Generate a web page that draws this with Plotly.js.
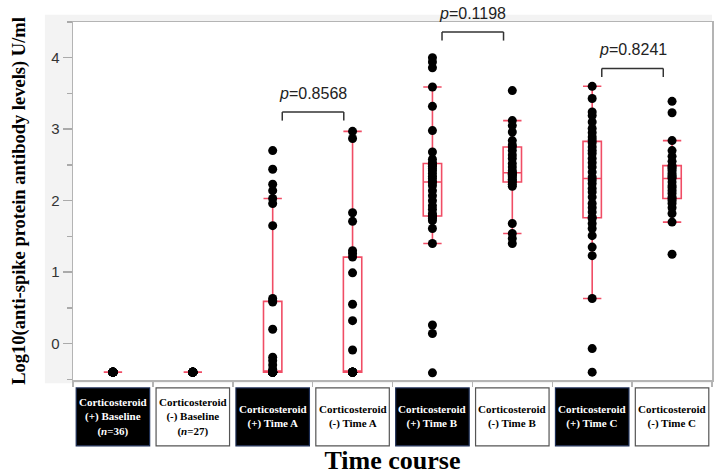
<!DOCTYPE html>
<html>
<head>
<meta charset="utf-8">
<script src="https://cdn.plot.ly/plotly-3.0.1.min.js"></script>
<style>html,body{margin:0;padding:0;background:#fff;}#chart{width:720px;height:475px;}</style>
</head>
<body>
<div id="chart"></div>
<script>
// ---- categories and tick labels ----
const categories = ['(+) Baseline', '(-) Baseline', '(+) Time A', '(-) Time A',
                    '(+) Time B', '(-) Time B', '(+) Time C', '(-) Time C'];
const tickLabels = [
  'Corticosteroid<br>(+) Baseline<br>(<i>n</i>=36)',
  'Corticosteroid<br>(-) Baseline<br>(<i>n</i>=27)',
  'Corticosteroid<br>(+) Time A',
  'Corticosteroid<br>(-) Time A',
  'Corticosteroid<br>(+) Time B',
  'Corticosteroid<br>(-) Time B',
  'Corticosteroid<br>(+) Time C',
  'Corticosteroid<br>(-) Time C'
];

// ---- values: log10 anti-spike protein antibody levels (U/ml) ----
const baselinePos = Array(36).fill(-0.4);
const baselineNeg = Array(27).fill(-0.4);
const timeAPos = [-0.4,-0.4,-0.4,-0.4,-0.4,-0.4,-0.4,-0.4,-0.4,-0.4,-0.4,-0.4,-0.4,-0.4,-0.4,-0.4,-0.4,-0.4,-0.4,-0.4,-0.4,
                  -0.36,-0.30,-0.24,-0.19,0.20,0.58,0.60,0.63,1.65,1.96,2.03,2.14,2.23,2.44,2.70];
const timeANeg = [-0.4,-0.4,-0.4,-0.4,-0.4,-0.4,-0.4,-0.4,-0.4,-0.4,-0.4,-0.4,-0.4,-0.4,-0.4,-0.4,
                  -0.09,0.32,0.55,0.99,1.21,1.26,1.30,1.71,1.83,2.87,2.97];
const timeBPos = [-0.41,0.14,0.26,1.40,1.61,
                  1.72,1.75,1.77,1.78,1.79,1.82,1.88,1.93,2.00,2.07,2.14,2.21,2.25,2.27,2.31,2.34,2.38,2.42,2.45,2.48,2.50,2.51,2.53,2.58,
                  2.68,2.98,3.32,3.59,3.86,3.94,4.00];
const timeBNeg = [1.40,1.47,1.54,1.68,
                  2.20,2.23,2.26,2.28,2.30,2.33,2.35,2.37,2.38,2.39,2.42,2.47,2.52,2.59,2.64,2.70,2.75,2.78,
                  2.84,2.96,3.05,3.12,3.54];
const timeCPos = [-0.40,-0.07,0.63,1.23,1.35,1.51,1.61,1.68,1.75,1.77,1.84,1.90,1.96,2.05,2.12,2.17,2.24,2.29,
                  2.33,2.40,2.47,2.53,2.59,2.66,2.70,2.75,2.81,2.85,2.89,2.95,3.01,3.10,3.19,3.24,3.43,3.60];
const timeCNeg = [1.25,1.70,1.82,1.90,1.96,2.00,2.03,2.05,2.10,2.14,2.18,2.21,2.26,2.31,2.33,2.35,2.38,2.42,
                  2.45,2.47,2.49,2.55,2.62,2.70,2.84,3.23,3.39];

const groups = [baselinePos, baselineNeg, timeAPos, timeANeg, timeBPos, timeBNeg, timeCPos, timeCNeg];

// ---- p values for the comparisons (group index pairs) ----
const pValues = ['0.8568', '0.1198', '0.8241'];
const pPairs = [[2, 3], [4, 5], [6, 7]];

// ---- build trace ----
const xs = [], ys = [];
groups.forEach((g, i) => g.forEach(v => { xs.push(categories[i]); ys.push(v); }));

const RED = '#f04d65';
const trace = {
  type: 'box', x: xs, y: ys,
  boxpoints: 'all', jitter: 0, pointpos: 0,
  quartilemethod: 'exclusive',
  width: 0.23, whiskerwidth: 1,
  fillcolor: 'rgba(0,0,0,0)',
  line: {color: RED, width: 1.6},
  marker: {color: '#000', size: 9, line: {width: 0}},
  hoverinfo: 'y'
};

const Y_RANGE = [-0.51, 4.5];
const toPaperY = v => (v - Y_RANGE[0]) / (Y_RANGE[1] - Y_RANGE[0]);

// ---- layout decorations ----
const shapes = [
  {type: 'rect', xref: 'paper', yref: 'paper', x0: -0.044, x1: 1.0, y0: -0.009, y1: 1.02,
   fillcolor: '#f3f3f3', line: {width: 0}, layer: 'below'},
  {type: 'rect', xref: 'paper', yref: 'paper', x0: 0, x1: 1, y0: 0, y1: 1,
   fillcolor: '#ffffff', line: {width: 0}, layer: 'below'}
];
const annotations = [];

categories.forEach((c, i) => {
  const dark = c.indexOf('(+)') === 0;
  shapes.push({type: 'rect', xref: 'x', yref: 'paper', x0: i - 0.46, x1: i + 0.46, y0: -0.184, y1: -0.022,
    fillcolor: dark ? '#000000' : '#ffffff', line: {color: dark ? '#1c2d55' : '#555555', width: 1.2}});
  annotations.push({xref: 'x', yref: 'paper', x: i, y: -0.103, text: tickLabels[i], showarrow: false,
    xanchor: 'center', yanchor: 'middle', align: 'center',
    font: {family: 'Liberation Serif', size: 11, weight: 'bold', color: dark ? '#ffffff' : '#000000'}});
});

const bracketTop = [3.24, 4.36, 3.85];
pPairs.forEach((pr, k) => {
  const xa = pr[0] + 0.12, xb = pr[1] - 0.11, top = bracketTop[k], leg = top - 0.12;
  const ln = {color: '#333333', width: 1.5};
  shapes.push({type: 'line', xref: 'x', yref: 'y', x0: xa, x1: xb, y0: top, y1: top, line: ln});
  shapes.push({type: 'line', xref: 'x', yref: 'y', x0: xa, x1: xa, y0: top, y1: leg, line: ln});
  shapes.push({type: 'line', xref: 'x', yref: 'y', x0: xb, x1: xb, y0: top, y1: leg, line: ln});
  annotations.push({xref: 'x', yref: 'paper', x: (xa + xb) / 2, y: toPaperY(top + 0.26), text: '<i>p</i>=' + pValues[k],
    showarrow: false, xanchor: 'center', yanchor: 'middle',
    font: {family: 'Liberation Sans', size: 16, color: '#222222'}});
});

const layout = {
  width: 720, height: 475,
  margin: {l: 73, r: 8, t: 22, b: 95},
  paper_bgcolor: '#ffffff', plot_bgcolor: '#ffffff',
  showlegend: false,
  xaxis: {
    type: 'category', categoryorder: 'array', categoryarray: categories,
    range: [-0.5, 7.5], showgrid: false, zeroline: false,
    showline: true, mirror: true, linecolor: '#b4b4b4', linewidth: 1.5,
    ticks: 'outside', tickson: 'boundaries', ticklen: 5, tickcolor: '#b4b4b4', tickwidth: 1.5,
    showticklabels: false,
    title: {text: 'Time course', standoff: 72,
      font: {family: 'Liberation Serif', size: 26, weight: 'bold', color: '#000'}}
  },
  yaxis: {
    range: Y_RANGE, tickvals: [0, 1, 2, 3, 4], showgrid: false, zeroline: false,
    showline: true, mirror: true, linecolor: '#b4b4b4', linewidth: 1.5,
    ticks: 'outside', ticklen: 9, tickcolor: '#aaaaaa', tickwidth: 1.5,
    minor: {dtick: 0.5, tick0: 0, ticks: 'outside', ticklen: 5, tickcolor: '#aaaaaa', tickwidth: 1.5, showgrid: false},
    tickfont: {family: 'Liberation Sans', size: 15, color: '#333333'},
    title: {text: 'Log10(anti-spike protein antibody levels) U/ml', standoff: 20,
      font: {family: 'Liberation Serif', size: 18.5, weight: 'bold', color: '#000'}}
  },
  shapes: shapes,
  annotations: annotations
};

Plotly.newPlot('chart', [trace], layout, {displayModeBar: false, staticPlot: true});
</script>
</body>
</html>
